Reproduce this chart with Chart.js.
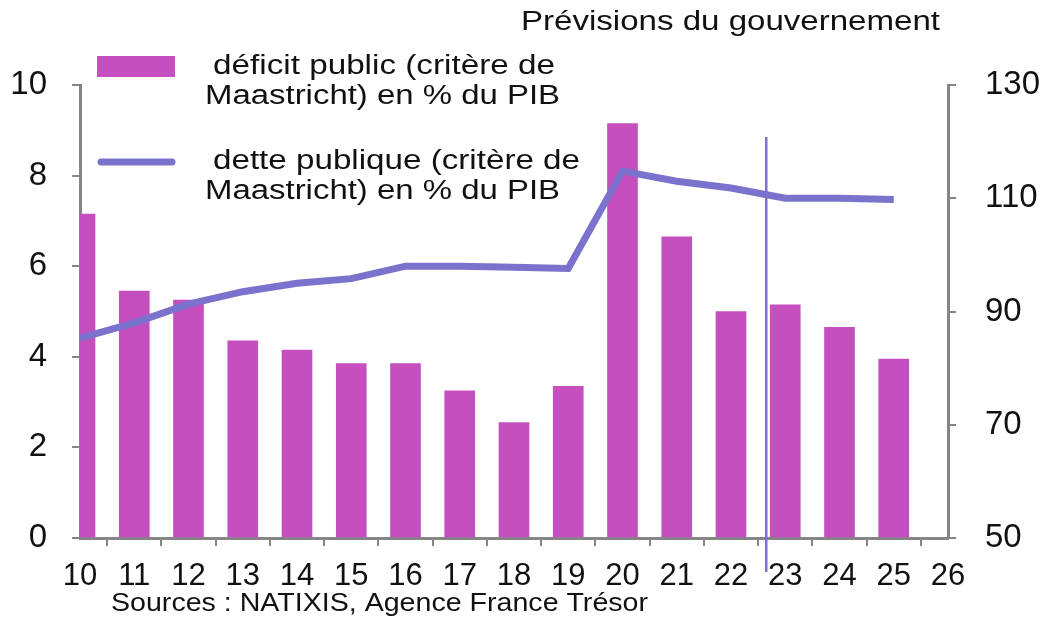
<!DOCTYPE html>
<html>
<head>
<meta charset="utf-8">
<script src="https://cdn.jsdelivr.net/npm/chart.js@4"></script>
<style>
    body { margin: 0; background: #fff; }
    #wrap { width: 1049px; height: 617px; }
</style>
</head>
<body>
<div id="wrap"><canvas id="chart" width="1049" height="617"></canvas></div>
<script>
// years (20xx)
const years = [10, 11, 12, 13, 14, 15, 16, 17, 18, 19, 20, 21, 22, 23, 24, 25];
// déficit public, % du PIB (left axis)
const deficit = [7.15, 5.45, 5.25, 4.35, 4.15, 3.85, 3.85, 3.25, 2.55, 3.35, 9.15, 6.65, 5.0, 5.15, 4.65, 3.95];
// dette publique, % du PIB (right axis)
const dette = [85.3, 88.0, 91.3, 93.5, 95.0, 95.8, 98.0, 98.0, 97.8, 97.6, 114.8, 113.0, 111.8, 110.0, 110.0, 109.8];
const leftTicks = [0, 2, 4, 6, 8, 10];
const rightTicks = [50, 70, 90, 110, 130];
const forecastStart = 22.65;

const barColor = "#c54fbf";
const lineColor = "#7a72cc";
const axisColor = "#858585";

const barLabel = ["déficit public (critère de", "Maastricht) en % du PIB"];
const lineLabel = ["dette publique (critère de", "Maastricht) en % du PIB"];

// text drawn stretched to a given width, like the original picture
function wideText(ctx, text, x, y, width) {
    const w = ctx.measureText(text).width;
    ctx.save();
    ctx.translate(x, y);
    ctx.scale(width / w, 1);
    ctx.fillText(text, 0, 0);
    ctx.restore();
}

// legend, titles and forecast marker
const extras = {
    id: "extras",
    afterDatasetsDraw(chart) {
        const ctx = chart.ctx;
        const x = chart.scales.x;
        const y = chart.scales.y;
        ctx.save();
        // forecast line
        ctx.strokeStyle = lineColor;
        ctx.lineWidth = 2.5;
        ctx.beginPath();
        ctx.moveTo(x.getPixelForValue(forecastStart), y.getPixelForValue(8.85));
        ctx.lineTo(x.getPixelForValue(forecastStart), y.getPixelForValue(-0.75));
        ctx.stroke();

        // legend
        ctx.fillStyle = barColor;
        ctx.fillRect(97, 56, 78, 21);
        ctx.strokeStyle = lineColor;
        ctx.lineWidth = 7;
        ctx.lineCap = "round";
        ctx.beginPath();
        ctx.moveTo(101, 162);
        ctx.lineTo(172, 162);
        ctx.stroke();

        ctx.fillStyle = "#111";
        ctx.font = "27px 'Liberation Sans', Arial, sans-serif";
        ctx.textBaseline = "middle";
        ctx.textAlign = "left";
        wideText(ctx, barLabel[0], 213, 67, 342);
        wideText(ctx, barLabel[1], 205, 97, 355);
        wideText(ctx, lineLabel[0], 213, 162, 367);
        wideText(ctx, lineLabel[1], 205, 192, 355);

        wideText(ctx, "Prévisions du gouvernement", 521, 23, 419);

        ctx.font = "25px 'Liberation Sans', Arial, sans-serif";
        wideText(ctx, "Sources : NATIXIS, Agence France Trésor", 111, 604, 537);
        ctx.restore();
    }
};

new Chart(document.getElementById("chart"), {
    type: "bar",
    data: {
        datasets: [{
            type: "line",
            label: "dette publique",
            data: years.map((v, i) => ({ x: v, y: dette[i] })),
            yAxisID: "y2",
            borderColor: lineColor,
            borderWidth: 7,
            pointRadius: 0,
            tension: 0,
            order: 0
        }, {
            type: "bar",
            label: "déficit public",
            data: years.map((v, i) => ({ x: v, y: deficit[i] })),
            yAxisID: "y",
            backgroundColor: barColor,
            barThickness: 30,
            order: 1
        }]
    },
    options: {
        responsive: false,
        animation: false,
        layout: { padding: { top: 85, left: 0, right: 0, bottom: 0 } },
        plugins: {
            legend: { display: false },
            tooltip: { enabled: false }
        },
        scales: {
            x: {
                type: "linear",
                min: 10,
                max: 26,
                offset: false,
                afterFit(s) { s.height = 79; },
                border: { color: axisColor, width: 3 },
                grid: { drawOnChartArea: false, color: axisColor, lineWidth: 2, tickLength: 8 },
                ticks: {
                    stepSize: 1,
                    color: "#111",
                    padding: 12,
                    font: { family: "'Liberation Sans', Arial, sans-serif", size: 31 }
                }
            },
            y: {
                position: "left",
                min: 0,
                max: 10,
                afterFit(s) { s.width = 80; },
                afterBuildTicks(s) { s.ticks = leftTicks.map(v => ({ value: v })); },
                border: { color: axisColor, width: 3 },
                grid: { drawOnChartArea: false, color: axisColor, lineWidth: 2, tickLength: 8 },
                ticks: { color: "#111", font: { family: "'Liberation Sans', Arial, sans-serif", size: 33 }, padding: 25 }
            },
            y2: {
                position: "right",
                min: 50,
                max: 130,
                afterFit(s) { s.width = 101; },
                afterBuildTicks(s) { s.ticks = rightTicks.map(v => ({ value: v })); },
                border: { color: axisColor, width: 3 },
                grid: { drawOnChartArea: false, color: axisColor, lineWidth: 2, tickLength: 8 },
                ticks: { color: "#111", font: { family: "'Liberation Sans', Arial, sans-serif", size: 33 }, padding: 29 }
            }
        }
    },
    plugins: [extras]
});
</script>
</body>
</html>
